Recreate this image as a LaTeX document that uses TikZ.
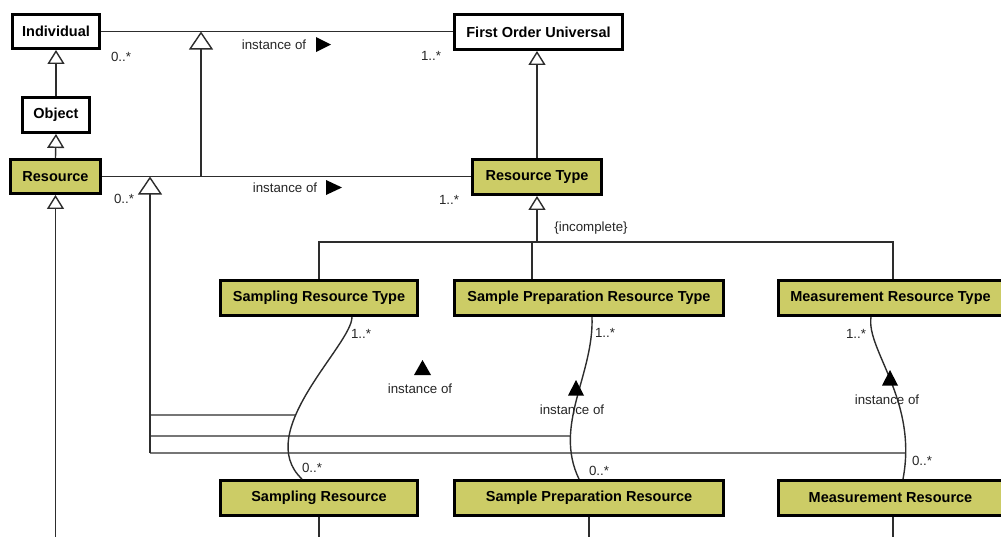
\documentclass[tikz,border=0pt]{standalone}
\usepackage{fontspec}
\setmainfont{Liberation Sans}
\usetikzlibrary{arrows.meta,calc,intersections}
\definecolor{umlfill}{RGB}{204,204,102}
\definecolor{lnc}{RGB}{45,45,45}
\begin{document}
\begin{tikzpicture}[x=1pt,y=-1pt,
  cls/.style={draw=black, line width=2.9pt, inner sep=0pt, fill=white,
    font=\fontsize{14.5}{17}\selectfont\bfseries, text=black},
  hl/.style={cls, fill=umlfill},
  conn/.style={draw=lnc, line width=1.4pt},
  gen/.style={conn, -{Triangle[length=14pt,width=17pt,fill=white]}},
  biggen/.style={conn, -{Triangle[length=18pt,width=24pt,fill=white]}},
  lbl/.style={font=\fontsize{13.3}{16}\selectfont, text=black!85, inner sep=0pt},
  headtri/.style={fill=black}]
\useasboundingbox (0,0) rectangle (1001,536);
\clip (0,0) rectangle (1001,536);

% classes
\node[cls, minimum width=87pt, minimum height=34pt] (ind) at (56,31.5) {Individual};
\node[cls, minimum width=67pt, minimum height=35pt] (obj) at (56,115) {Object};
\node[hl, minimum width=90pt, minimum height=34pt] (res) at (55.5,176.5) {Resource};
\node[cls, minimum width=168pt, minimum height=35pt] (fou) at (538.5,32) {First Order Universal};
\node[hl, minimum width=129pt, minimum height=35pt] (rt) at (537,177) {Resource Type};
\node[hl, minimum width=197pt, minimum height=35pt] (srt) at (319,298) {Sampling Resource Type};
\node[hl, minimum width=269pt, minimum height=35pt] (sprt) at (589,298) {Sample Preparation Resource Type};
\node[hl, minimum width=224pt, minimum height=35pt] (mrt) at (890.5,298) {Measurement Resource Type};
\node[hl, minimum width=197pt, minimum height=35pt] (sr) at (319,498) {Sampling Resource};
\node[hl, minimum width=269pt, minimum height=35pt] (spr) at (589,498) {Sample Preparation Resource};
\node[hl, minimum width=224pt, minimum height=35pt] (mr) at (890.5,498) {Measurement Resource};

\coordinate (bot) at (0,540);

% generalizations between classes
\draw[gen] (obj.north) -- (ind.south);
\draw[gen] (res.north) -- (obj.south);
\draw[gen] (bot -| res.south) -- (res.south);
\draw[gen] (rt.north) -- (rt.north |- fou.south);

% associations
\draw[conn] (ind.east) -- (ind.east -| fou.west);
\draw[conn] (res.east) -- (res.east -| rt.west);
\coordinate (g1bot) at (201,176.5);
\coordinate (g1tip) at (201,31.5);
\draw[biggen] (g1bot) -- (g1tip);

% subtypes of Resource Type
\coordinate (stem) at (537,242);
\coordinate (busL) at (319,242);
\coordinate (busM) at (532,242);
\coordinate (busR) at (893,242);
\draw[gen] (stem) -- (stem |- rt.south);
\draw[conn] (srt.north) -- (busL) -- (busR) -- (busR |- mrt.north);
\draw[conn] (busM) -- (busM |- sprt.north);

% instance-of curves
\draw[conn, name path=c1] ($(srt.south)+(33,0)$) .. controls (352,345) and (252,432) .. ($(sr.north)+(-17,0)$);
\draw[conn, name path=c2] ($(sprt.south)+(3,0)$) .. controls (594,375) and (553,425) .. ($(spr.north)+(-10,0)$);
\draw[conn, name path=c3] ($(mrt.south)+(-19.5,0)$) .. controls (866,350) and (918,400) .. ($(mr.north)+(12.5,0)$);

\path[name path=h1] (150,415) -- (1000,415);
\path[name path=h2] (150,436) -- (1000,436);
\path[name path=h3] (150,453) -- (1000,453);
\path[name intersections={of=c1 and h1, by=x1}];
\path[name intersections={of=c2 and h2, by=x2}];
\path[name intersections={of=c3 and h3, by=x3}];
\coordinate (k1) at (150,415);
\coordinate (k2) at (150,436);
\coordinate (k3) at (150,453);
\coordinate (g2tip) at (150,176.5);
\draw[conn] (k1) -- (x1);
\draw[conn] (k2) -- (x2);
\draw[conn] (k3) -- (x3);
\draw[biggen] (k3) -- (g2tip);

% bottom stubs
\draw[conn] (sr.south) -- (sr.south |- bot);
\draw[conn] (spr.south) -- (spr.south |- bot);
\draw[conn] ($(mr.south)+(2.5,0)$) -- ($(mr.south |- bot)+(2.5,0)$);

% labels
\node[lbl] (m1) at (121,57) {0..*};
\node[lbl] (m2) at (431,56) {1..*};
\node[lbl] (io1) at (274,44.5) {instance of};
\fill[headtri] (316,37) -- (331,44.5) -- (316,52) -- cycle;
\node[lbl] (m3) at (124,199) {0..*};
\node[lbl] (m4) at (449,200) {1..*};
\node[lbl] (io2) at (285,188) {instance of};
\fill[headtri] (326,180) -- (342,187.5) -- (326,195) -- cycle;
\node[lbl] (inc) at (591,228) {\{incomplete\}};

\node[lbl] (m5) at (361,334) {1..*};
\node[lbl] (m6) at (312,468) {0..*};
\fill[headtri] (414,375) -- (422.5,360) -- (431,375) -- cycle;
\node[lbl] (io3) at (420,389) {instance of};

\node[lbl] (m7) at (605,333) {1..*};
\node[lbl] (m8) at (599,471) {0..*};
\fill[headtri] (568,395.5) -- (576,380) -- (584,395.5) -- cycle;
\node[lbl] (io4) at (572,410) {instance of};

\node[lbl] (m9) at (856,334) {1..*};
\node[lbl] (m10) at (922,461) {0..*};
\fill[headtri] (882,385.5) -- (890,370) -- (898,385.5) -- cycle;
\node[lbl] (io5) at (887,400) {instance of};
\end{tikzpicture}
\end{document}
